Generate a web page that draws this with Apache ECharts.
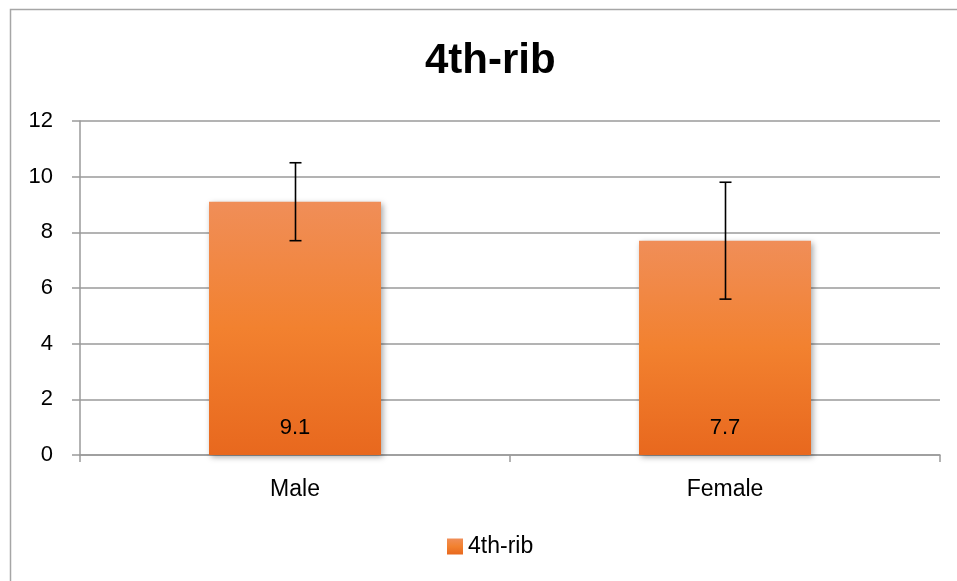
<!DOCTYPE html>
<html><head><meta charset="utf-8">
<script src="https://cdn.jsdelivr.net/npm/echarts@6/dist/echarts.min.js"></script>
<style>html,body{margin:0;padding:0;background:#fff}#c{width:957px;height:581px}</style>
</head><body><div id="c"></div>
<script>
const categories = ['Male', 'Female'];
const means = [9.1, 7.7];
const errLow = [7.7, 5.6];
const errHigh = [10.5, 9.8];
const yTicks = [0, 2, 4, 6, 8, 10, 12];
const seriesName = '4th-rib';

const chart = echarts.init(document.getElementById('c'), null, {renderer: 'canvas'});
const font = '"Liberation Sans", "Open Sans", sans-serif';
const barGrad = new echarts.graphic.LinearGradient(0, 0, 0, 1, [
  {offset: 0, color: '#f08e58'},
  {offset: 0.5, color: '#f2812f'},
  {offset: 1, color: '#e8681e'}
]);
chart.setOption({
  animation: false,
  graphic: [{
    type: 'rect', shape: {x: 10.5, y: 9.5, width: 1000, height: 1000},
    style: {fill: 'none', stroke: '#a6a6a6', lineWidth: 1.5}, z: -1
  }],
  title: {
    text: seriesName, left: 420, top: 35,
    textStyle: {fontFamily: font, fontSize: 42, fontWeight: 'bold', color: '#000'}
  },
  legend: {
    top: 530, left: 442, itemWidth: 16, itemHeight: 16, icon: 'rect', itemGap: 6,
    textStyle: {fontFamily: font, fontSize: 23, color: '#000'},
    data: [seriesName]
  },
  grid: {left: 80, right: 17, top: 121, bottom: 126, containLabel: false},
  xAxis: {
    type: 'category', data: categories,
    axisLine: {lineStyle: {color: '#9a9a9a', width: 1.5}},
    axisTick: {show: true, length: 7, lineStyle: {color: '#9a9a9a', width: 1.5}},
    axisLabel: {fontFamily: font, fontSize: 23, color: '#000', margin: 23}
  },
  yAxis: {
    type: 'value', min: 0, max: 12, interval: 2,
    axisLine: {show: true, lineStyle: {color: '#9a9a9a', width: 1.5}},
    axisTick: {show: true, length: 8, lineStyle: {color: '#9a9a9a', width: 1.5}},
    splitLine: {lineStyle: {color: '#9a9a9a', width: 1.5}},
    axisLabel: {fontFamily: font, fontSize: 22, color: '#000', margin: 27,
      formatter: v => yTicks.includes(v) ? String(v) : ''}
  },
  series: [{
    name: seriesName, type: 'bar', data: means, barWidth: '40%',
    itemStyle: {color: barGrad, shadowColor: 'rgba(0,0,0,0.35)', shadowBlur: 6, shadowOffsetX: 2, shadowOffsetY: 2},
    label: {show: true, position: 'insideBottom', distance: 16, fontFamily: font, fontSize: 22, color: '#000',
      formatter: p => p.value.toFixed(1)}
  }, {
    name: 'err', type: 'custom', z: 10,
    data: categories.map((c, i) => [i, errLow[i], errHigh[i]]),
    renderItem: (params, api) => {
      const lo = api.coord([api.value(0), api.value(1)]);
      const hi = api.coord([api.value(0), api.value(2)]);
      const x = Math.round(lo[0]) + 0.5, hw = 6;
      const st = {stroke: '#000', lineWidth: 1.6};
      return {type: 'group', children: [
        {type: 'line', shape: {x1: x, y1: lo[1], x2: x, y2: hi[1]}, style: st},
        {type: 'line', shape: {x1: x - hw, y1: lo[1], x2: x + hw, y2: lo[1]}, style: st},
        {type: 'line', shape: {x1: x - hw, y1: hi[1], x2: x + hw, y2: hi[1]}, style: st}
      ]};
    }
  }]
});
</script></body></html>
